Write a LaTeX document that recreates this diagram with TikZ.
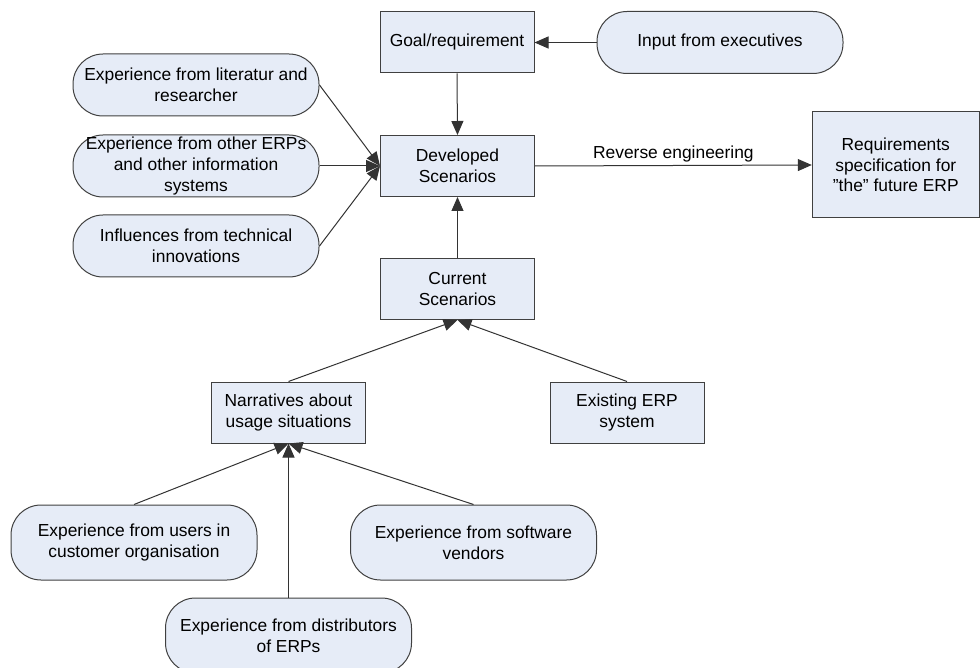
\documentclass[tikz,border=0pt]{standalone}
\usepackage{fontspec}
\setmainfont{Liberation Sans}
\usetikzlibrary{arrows.meta}
\definecolor{boxfill}{RGB}{230,236,247}
\definecolor{edgecol}{RGB}{64,64,64}
\begin{document}
\begin{tikzpicture}[x=0.5pt,y=-0.5pt,
  every node/.style={font=\fontsize{8.7}{10.3}\selectfont, align=center, inner sep=1pt},
  boxnode/.style={draw=edgecol, fill=boxfill, line width=0.5pt, minimum width=77pt, minimum height=30.5pt},
  pill/.style={draw=edgecol, fill=boxfill, line width=0.5pt, rounded corners=15pt, minimum width=123pt, minimum height=31pt},
  tallpill/.style={pill, minimum height=37.5pt},
  conn/.style={draw=black!80, line width=0.5pt, -{Triangle[length=7pt,width=6pt]}},
  lbl/.style={font=\fontsize{8.7}{10.3}\selectfont}
]
\useasboundingbox (0,0) rectangle (980,668);
\node[boxnode] (goal) at (457,42.5) {Goal/requirement};
\node[pill] (input) at (720,42.5) {Input from executives};
\node[pill] (lit) at (196,85) {Experience from literatur and\\researcher};
\node[pill] (oth) at (196,166) {Experience from other ERPs\\and other information\\systems};
\node[pill] (inf) at (196,246) {Influences from technical\\innovations};
\node[boxnode] (dev) at (457.5,166) {Developed\\Scenarios};
\node[draw=edgecol, fill=boxfill, line width=0.5pt, minimum width=83.5pt, minimum height=53pt] (req) at (895.8,165) {Requirements\\specification for\\"the" future ERP};
\node[boxnode] (cur) at (457.5,289) {Current\\Scenarios};
\node[boxnode] (nar) at (288.5,412.5) {Narratives about\\usage situations};
\node[boxnode] (exi) at (627,412.5) {Existing ERP\\system};
\node[tallpill] (usr) at (134,542.5) {Experience from users in\\customer organisation};
\node[tallpill] (ven) at (473.5,542.5) {Experience from software\\vendors};
\node[tallpill] (dis) at (288.5,635.5) {Experience from distributors\\of ERPs};

\draw[conn] (input.west) -- (goal.east);
\draw[conn] (goal.south) -- (dev.north);
\draw[conn] (lit.east) -- (dev.west);
\draw[conn] (oth.east) -- (dev.west);
\draw[conn] (inf.east) -- (dev.west);
\draw[conn] (dev.east) -- node[above, lbl, yshift=0.5pt] {Reverse engineering} (req.west);
\draw[conn] (cur.north) -- (dev.south);
\draw[conn] (nar.north) -- (cur.south);
\draw[conn] (exi.north) -- (cur.south);
\draw[conn] (usr.north) -- (nar.south);
\draw[conn] (ven.north) -- (nar.south);
\draw[conn] (dis.north) -- (nar.south);
\end{tikzpicture}
\end{document}
